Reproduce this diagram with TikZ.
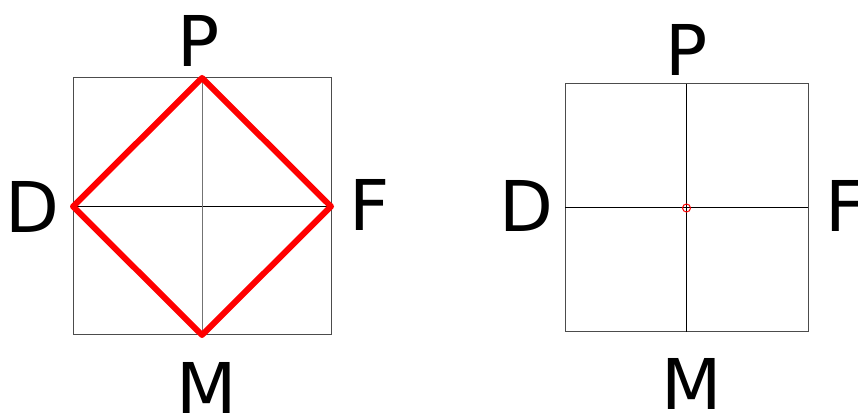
\documentclass[tikz,border=0pt]{standalone}
\usepackage{fontspec}
\setmainfont{DejaVu Sans}
\tikzset{
	lab/.style = {anchor=base west, inner sep=0pt, font=\fontsize{70}{84}\selectfont},
	frame/.style = {draw=black!70, line width=1pt},
	axis/.style = {draw=black, line width=1pt}
}
\begin{document}
\begin{tikzpicture}[x=1pt, y=1pt]
			\useasboundingbox (0, 0) rectangle (858, 414);

			% left square
			\coordinate (LD) at (73, 207.5);
\coordinate (LF) at (331, 207.5);
\coordinate (LP) at (202, 336);
\coordinate (LM) at (202, 79);

			\draw[frame] (73, 79) rectangle (331, 336);
			\draw[axis] (LD) -- (LF);
			\draw[frame, draw=black!55] (LP) -- (LM);
			\draw[red, line width=6pt, line join=round, line cap=round] (LP) -- (LF) -- (LM) -- (LD) -- cycle;

			\node[lab] (lP) at (177, 347) {P};
\node[lab] (lM) at (176, 0) {M};
\node[lab] (lD) at (5, 181) {D};
\node[lab] (lF) at (349, 183) {F};

			% right square
			\coordinate (RD) at (565, 206);
\coordinate (RF) at (808, 206);
\coordinate (RP) at (686.5, 330.3);
\coordinate (RM) at (686.5, 82.3);
\coordinate (RO) at (686.5, 206);

			\draw[frame] (565, 82.3) rectangle (808, 330.3);
			\draw[axis] (RD) -- (RF);
			\draw[axis] (RP) -- (RM);
			\draw[red, line width=1pt] (RO) circle (4);

			\node[lab] (rP) at (665, 338) {P};
\node[lab] (rM) at (661, 4) {M};
\node[lab] (rD) at (499, 182) {D};
\node[lab] (rF) at (825, 182) {F};

		\end{tikzpicture}
\end{document}
